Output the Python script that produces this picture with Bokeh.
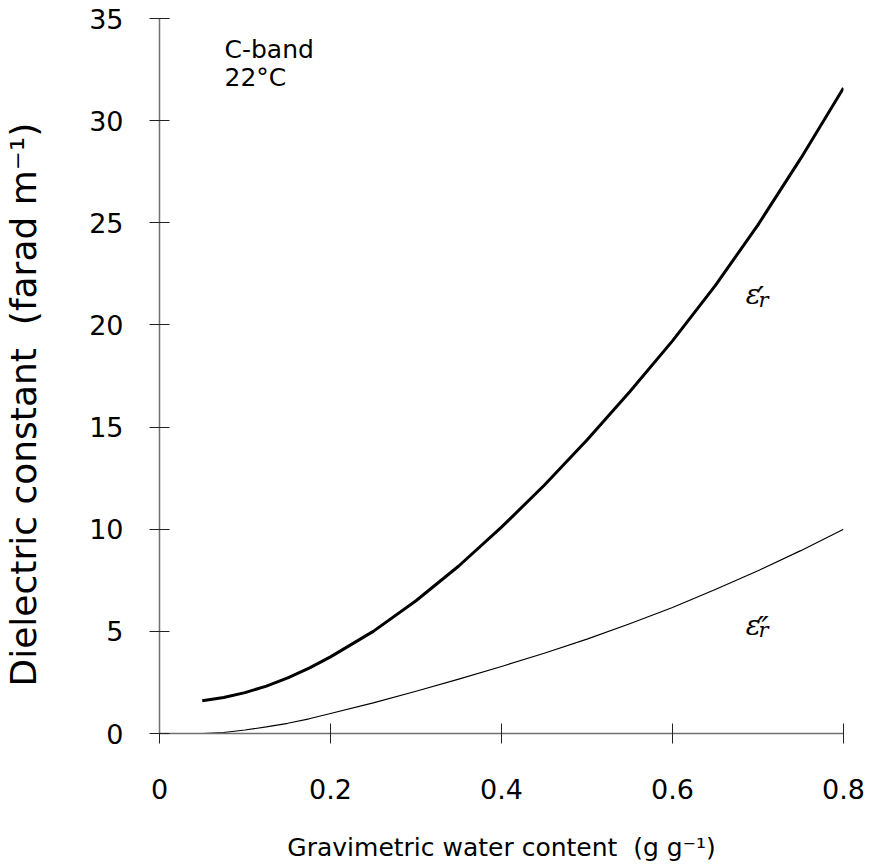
from bokeh.plotting import figure
from bokeh.models import Range1d, FixedTicker, Label
from bokeh.embed import file_html
from bokeh.resources import INLINE

# ---- data ----
water = [0.05, 0.075, 0.10, 0.125, 0.15, 0.175, 0.20, 0.25, 0.30, 0.35, 0.40,
         0.45, 0.50, 0.55, 0.60, 0.65, 0.70, 0.75, 0.80]
eps_real = [1.6, 1.76, 2.0, 2.32, 2.72, 3.2, 3.75, 5.0, 6.5, 8.2, 10.1,
            12.15, 14.37, 16.73, 19.22, 21.92, 24.9, 28.15, 31.6]
eps_imag = [0.0, 0.05, 0.17, 0.32, 0.5, 0.72, 0.98, 1.5, 2.07, 2.66, 3.28,
            3.93, 4.62, 5.37, 6.17, 7.05, 7.97, 8.95, 10.0]
x_ticks = [0, 0.2, 0.4, 0.6, 0.8]
x_tick_labels = ["0", "0.2", "0.4", "0.6", "0.8"]
y_ticks = [0, 5, 10, 15, 20, 25, 30, 35]

FONT = "DejaVu Sans"
NB = "\u00a0"

p = figure(width=872, height=868, output_backend="svg", toolbar_location=None,
           x_range=Range1d(0, 0.8), y_range=Range1d(0, 35),
           min_border_left=158, min_border_right=29,
           min_border_top=18, min_border_bottom=135)
p.outline_line_color = None
p.xgrid.grid_line_color = None
p.ygrid.grid_line_color = None

for ax in (p.xaxis[0], p.yaxis[0]):
    ax.axis_line_color = "#707070"
    ax.axis_line_width = 1.5
    ax.major_tick_line_color = "#222222"
    ax.major_tick_line_width = 1
    ax.major_tick_in = 10
    ax.major_tick_out = 10
    ax.minor_tick_line_color = None
    ax.major_label_text_font = FONT
    ax.major_label_text_font_size = "27px"
    ax.major_label_text_color = "black"
    ax.axis_label_text_font = FONT
    ax.axis_label_text_font_style = "normal"
    ax.axis_label_text_color = "black"

p.xaxis[0].ticker = FixedTicker(ticks=x_ticks)
p.xaxis[0].major_label_overrides = {t: s for t, s in zip(x_ticks, x_tick_labels)}
p.xaxis[0].major_label_standoff = 35
p.xaxis[0].axis_label = "Gravimetric water content" + NB + NB + "(g g\u207b\u00b9)"
p.xaxis[0].axis_label_text_font_size = "25px"
p.xaxis[0].axis_label_standoff = 31

p.yaxis[0].ticker = FixedTicker(ticks=y_ticks)
p.yaxis[0].major_label_standoff = 26
p.yaxis[0].axis_label = ("Dielectric constant" + NB + NB + "(farad m\u207b\u00b9)"
                         + NB * 5)
p.yaxis[0].axis_label_text_font_size = "36px"
p.yaxis[0].axis_label_standoff = 42

p.line(water, eps_real, line_color="black", line_width=3, line_join="round")
p.line(water, eps_imag, line_color="black", line_width=1.2, line_join="round")

# annotation text
p.add_layout(Label(x=0.076, y=33.48, text="C-band", text_font=FONT, text_color="black",
                   text_font_size="25px", text_baseline="middle", text_align="left"))
p.add_layout(Label(x=0.076, y=32.11, text="22\u00b0C", text_font=FONT, text_color="black",
                   text_font_size="25px", text_baseline="middle", text_align="left"))

# epsilon labels (epsilon, subscript r, prime)
def eps_label(x, y_eps, y_sub, y_prime, prime):
    p.add_layout(Label(x=x, y=y_eps, text="\u03b5", text_font="DejaVu Serif",
                       text_color="black", text_font_style="italic",
                       text_font_size="28px", text_baseline="alphabetic",
                       text_align="left"))
    p.add_layout(Label(x=x + 0.0150, y=y_sub, text="r", text_font="DejaVu Serif",
                       text_color="black", text_font_style="italic",
                       text_font_size="21px", text_baseline="alphabetic",
                       text_align="left"))
    p.add_layout(Label(x=x + 0.0128, y=y_prime, text=prime, text_font="DejaVu Sans",
                       text_color="black", text_font_style="italic",
                       text_font_size="32px", text_baseline="alphabetic",
                       text_align="left"))

eps_label(0.6856, 21.50, 21.20, 21.30, "\u2032")
eps_label(0.6856, 5.30, 5.05, 5.15, "\u2033")

open("out.html", "w").write(file_html(p, INLINE))
